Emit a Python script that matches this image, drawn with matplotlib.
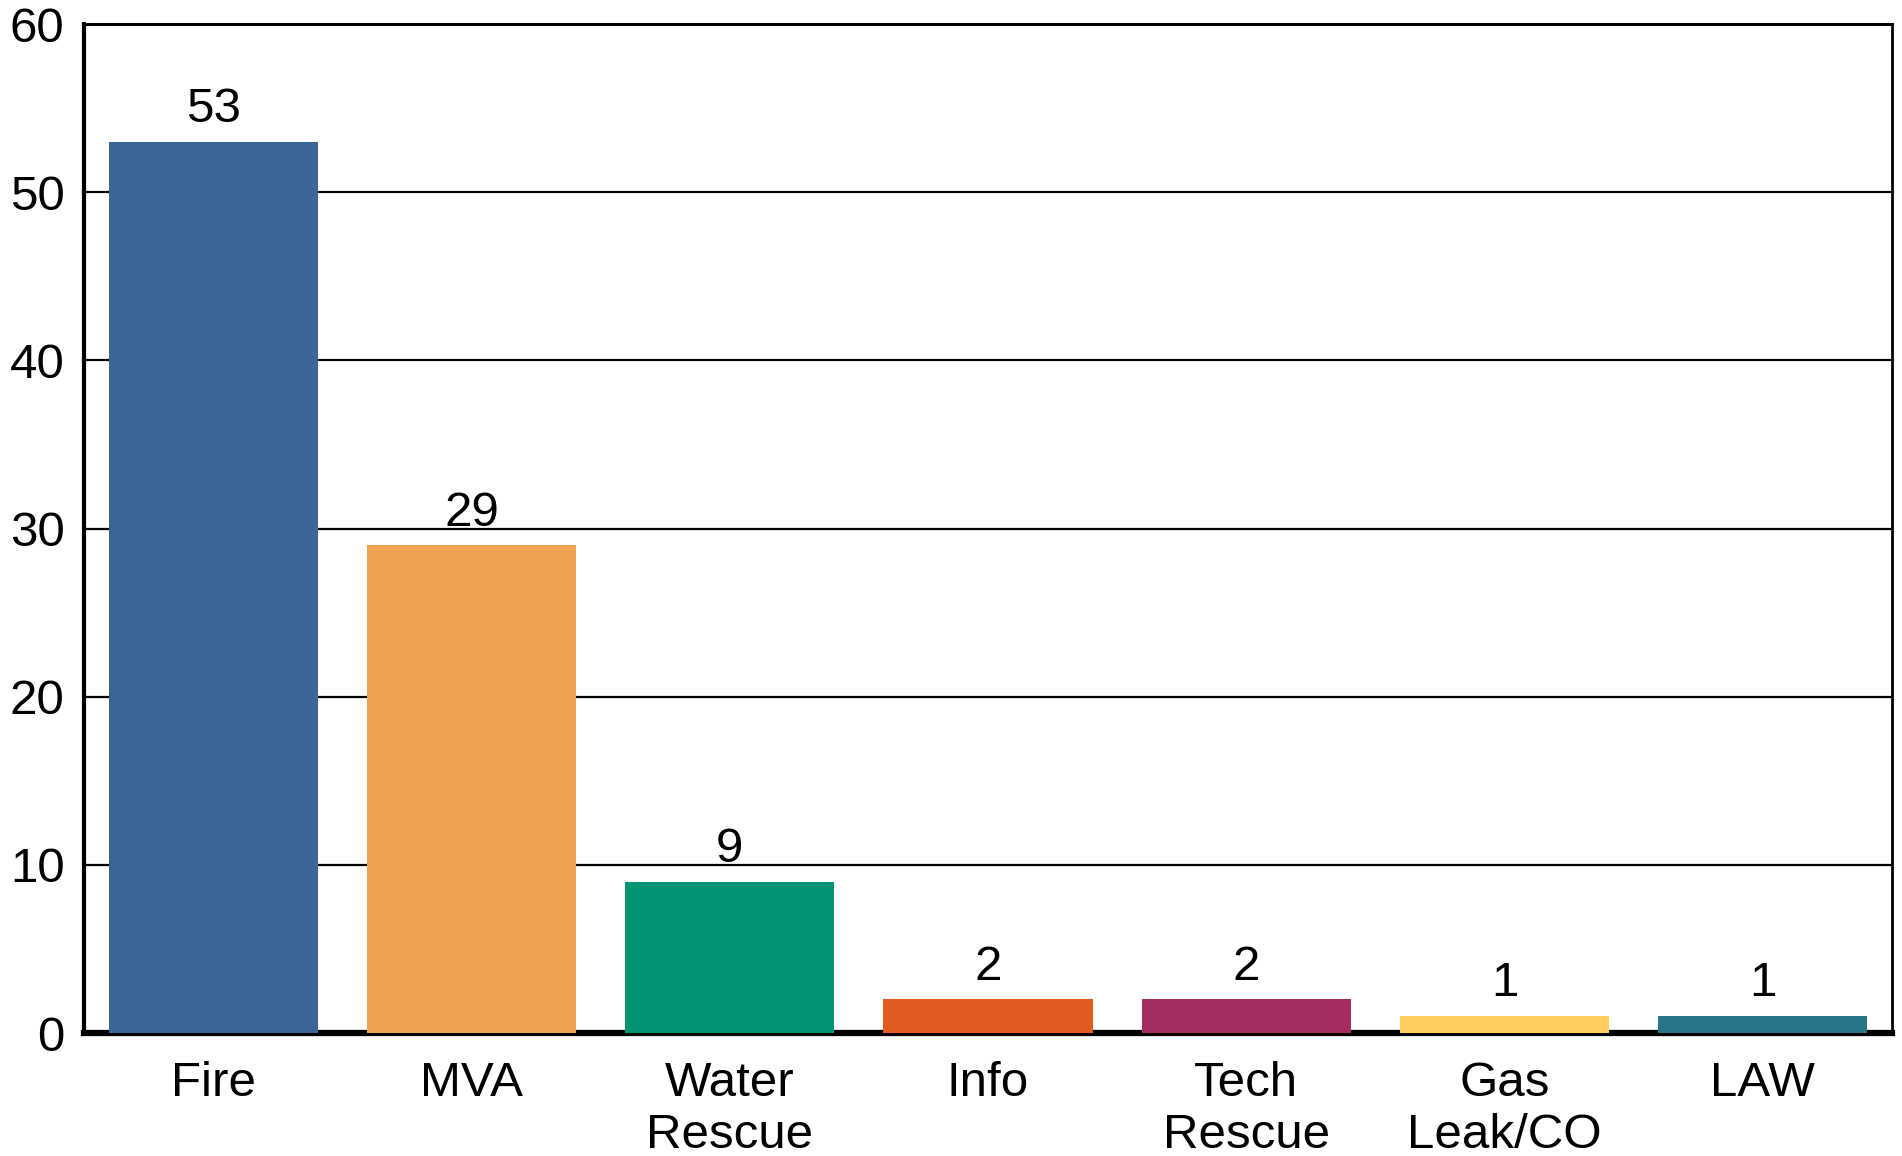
import matplotlib
matplotlib.use("Agg")
import numpy as np
import matplotlib.pyplot as plt

categories = ["Fire", "MVA", "Water\nRescue", "Info", "Tech\nRescue", "Gas\nLeak/CO", "LAW"]
counts = [53, 29, 9, 2, 2, 1, 1]
colors = ["#3A6595", "#EFA352", "#009473", "#E05A22", "#A32C60", "#FECE60", "#28758B"]
yticks = [0, 10, 20, 30, 40, 50, 60]

plt.rcParams['font.family'] = ['Liberation Sans', 'DejaVu Sans']

fig = plt.figure(figsize=(19.02, 11.56), dpi=100)
ax = fig.add_axes([0.0442, 0.1064, 0.9505, 0.8728])

x = np.arange(len(categories))
bars = ax.bar(x, counts, width=0.81, color=colors, zorder=3)
ax.bar_label(bars, labels=[str(c) for c in counts], padding=7, fontsize=35.5)

ax.set_xlim(-0.5, len(categories) - 0.5)
ax.set_ylim(0, 60)
ax.set_yticks(yticks)
ax.set_yticklabels([str(t) for t in yticks], fontsize=35.5)
ax.set_xticks(x)
ax.set_xticklabels(categories, fontsize=35.5, linespacing=1.2)
ax.tick_params(axis='both', length=0)
ax.tick_params(axis='y', pad=14)
ax.tick_params(axis='x', pad=20)

ax.yaxis.grid(True, color='black', linewidth=1.6, zorder=1)
ax.set_axisbelow(True)

ax.spines['left'].set_linewidth(3)
ax.spines['top'].set_linewidth(2.2)
ax.spines['right'].set_linewidth(2)
ax.spines['bottom'].set_linewidth(4.5)
ax.spines['bottom'].set_zorder(2)

plt.savefig("out.png", dpi=100)
plt.close()
